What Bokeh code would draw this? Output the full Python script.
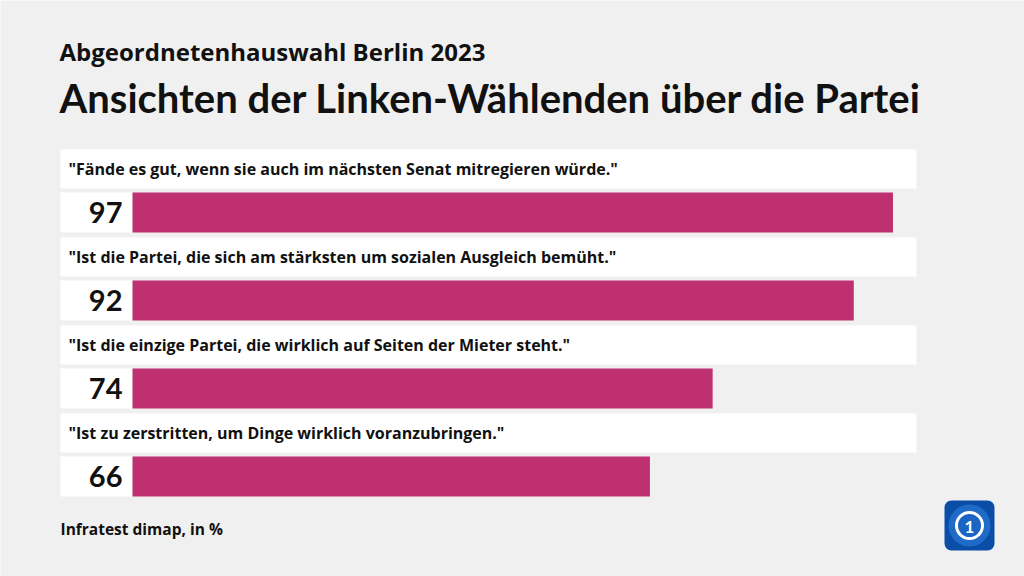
from bokeh.plotting import figure
from bokeh.models import Range1d, ColumnDataSource
from bokeh.core.properties import value
from bokeh.embed import file_html
from bokeh.resources import INLINE

# ---- data ----
statements = [
    '"Fände es gut, wenn sie auch im nächsten Senat mitregieren würde."',
    '"Ist die Partei, die sich am stärksten um sozialen Ausgleich bemüht."',
    '"Ist die einzige Partei, die wirklich auf Seiten der Mieter steht."',
    '"Ist zu zerstritten, um Dinge wirklich voranzubringen."',
]
values = [97, 92, 74, 66]
value_labels = ["97", "92", "74", "66"]
subtitle = "Abgeordnetenhauswahl Berlin 2023"
title = "Ansichten der Linken-Wählenden über die Partei"
source_note = "Infratest dimap, in %"

# ---- layout (canvas pixels vertically, value units horizontally) ----
W, H = 1024, 576
PX = 7.84            # pixels per percentage point
X0 = 132             # canvas x of value 0
xmin = -X0 / PX
xmax = (W - X0) / PX
BG = "#f0f0f0"
BAR = "#be3070"
INK = "#111111"


def xv(px):
    return (px - X0) / PX


p = figure(width=W, height=H, x_range=Range1d(xmin, xmax), y_range=Range1d(H, 0),
           output_backend="svg", toolbar_location=None, min_border=0)
p.axis.visible = False
p.grid.visible = False
p.outline_line_color = None
p.background_fill_color = BG
p.border_fill_color = BG

n = len(values)
pitch = 88
label_y = [168.5 + pitch * i for i in range(n)]
label_text_y = [168 + pitch * i for i in range(n)]
bar_y = [212 + pitch * i for i in range(n)]
box_left = xv(60)

src = ColumnDataSource(dict(
    label=statements, val=values, vlab=value_labels,
    ly=label_y, lt=label_text_y, by=bar_y,
    left=[box_left] * n, zero=[0] * n, full=[100] * n,
))

# label boxes
p.hbar(y="ly", left="left", right="full", height=39, fill_color="white",
       line_color=None, source=src)
# number boxes
p.hbar(y="by", left="left", right="zero", height=40, fill_color="white",
       line_color=None, source=src)
# bars
p.hbar(y="by", left="zero", right="val", height=40, fill_color=BAR,
       line_color=None, source=src)

p.text(x=xv(68), y="lt", text="label", source=src,
       text_font=value("Open Sans"), text_font_size="16px", text_font_style="bold",
       text_baseline="middle", text_align="left", text_color=INK)
p.text(x=xv(122), y="by", text="vlab", source=src,
       text_font=value("Lato"), text_font_size="29px", text_font_style="bold",
       text_baseline="middle", text_align="right", text_color=INK)

# titles
p.text(x=[xv(59)], y=[51], text=[subtitle], text_font=value("Open Sans"),
       text_font_size="24px", text_font_style="bold", text_baseline="middle",
       text_color=INK)
p.text(x=[xv(59)], y=[97], text=[title], text_font=value("Lato"),
       text_font_size="40px", text_font_style="bold", text_baseline="middle",
       text_color=INK)
p.text(x=[xv(60)], y=[528], text=[source_note], text_font=value("Open Sans"),
       text_font_size="15.5px", text_font_style="bold", text_baseline="middle",
       text_color=INK)

# logo
lx = xv(969)
p.rect(x=[lx], y=[525], width=50 / PX, height=50, fill_color="#0a4ea8",
       line_color=None, border_radius=7)
p.scatter(x=[lx], y=[525], size=42, fill_color="#2a78d6", line_color=None, fill_alpha=0.7)
p.scatter(x=[lx], y=[525], size=26, fill_color="#1b64c4", line_color="white", line_width=3)
p.text(x=[lx], y=[526], text=["1"], text_font=value("Lato"), text_font_size="17px",
       text_font_style="bold", text_color="white", text_align="center",
       text_baseline="middle")

open("out.html", "w").write(file_html(p, INLINE))
